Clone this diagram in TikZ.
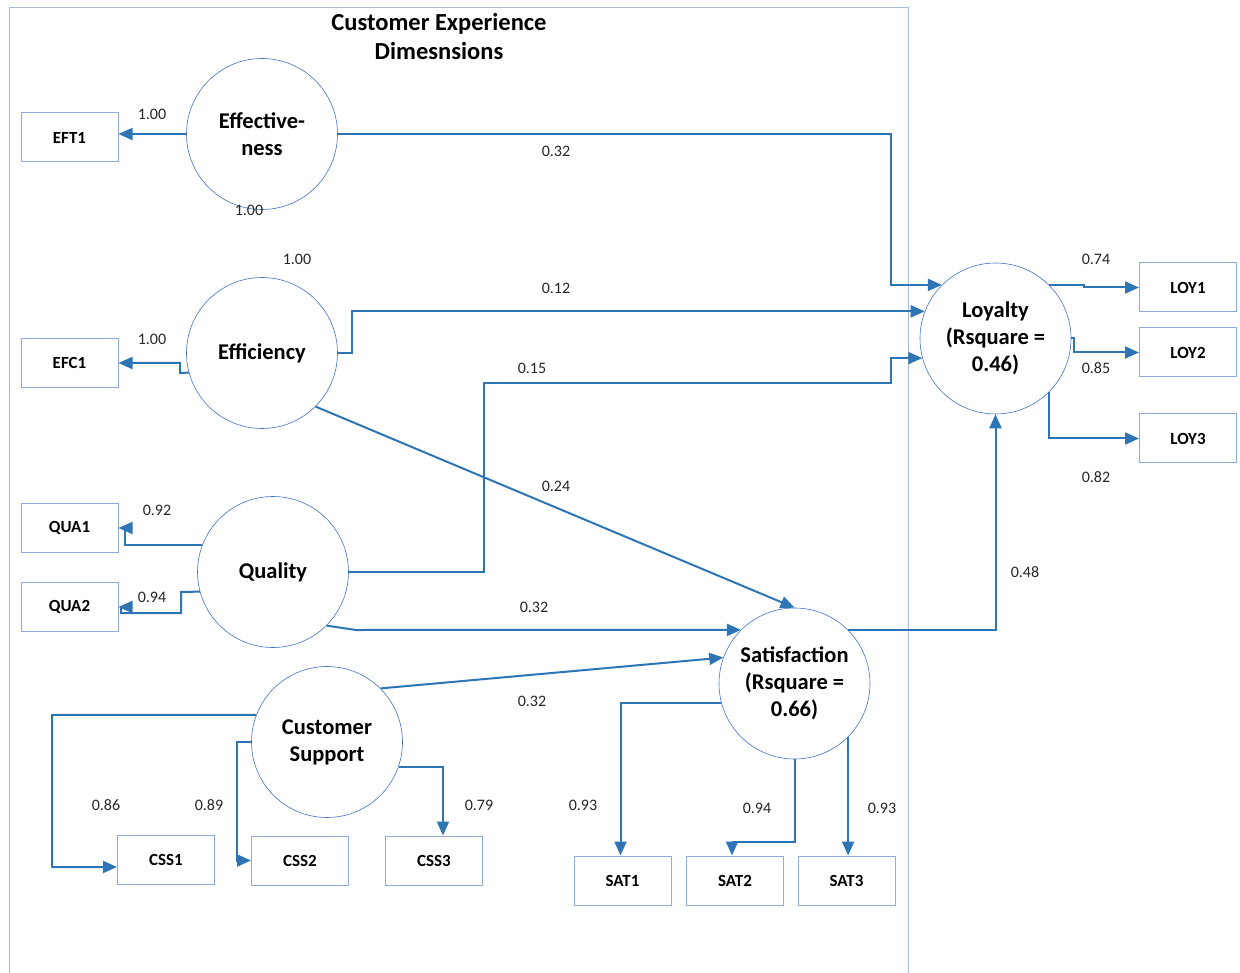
\documentclass[tikz,border=0pt]{standalone}
\usepackage{fontspec}
\setmainfont{Carlito}
\usetikzlibrary{arrows.meta,calc}
\definecolor{linkblue}{HTML}{2E75B6}
\definecolor{ringblue}{HTML}{4472C4}
\definecolor{boxblue}{HTML}{8FAADC}
\definecolor{framegray}{HTML}{A9BAD6}
\definecolor{numgray}{HTML}{262626}
\tikzset{
  latent/.style={circle, draw=ringblue, line width=0.6pt, fill=white,
    minimum size=151pt, inner sep=0pt, align=center,
    font=\bfseries\fontsize{22.5}{27}\selectfont},
  item/.style={rectangle, draw=boxblue, line width=1pt, fill=white,
    minimum width=97pt, minimum height=49pt, inner sep=0pt,
    font=\bfseries\fontsize{17}{20}\selectfont},
  conn/.style={draw=linkblue, line width=2pt,
    -{Triangle[length=14pt,width=12pt]}},
  coef/.style={font=\fontsize{16}{18}\selectfont, text=numgray, inner sep=0pt},
  frame/.style={draw=framegray, line width=1pt}
}
\begin{document}
\begin{tikzpicture}[x=1pt,y=-1pt]
\useasboundingbox (0,0) rectangle (1240,973);
\fill[white] (0,0) rectangle (1240,973);

% frame around the experience dimensions
\draw[frame] (9,980) -- (9,8) -- (908,8) -- (908,980);
\node[font=\bfseries\fontsize{24.5}{29}\selectfont, align=center] (title) at (439,36.5)
  {Customer Experience\\Dimesnsions};

% latent constructs
\node[latent] (eff) at (262,134) {Effective-\\ness};
\node[latent] (effi) at (262,353) {Efficiency};
\node[latent] (qua) at (273,572) {Quality};
\node[latent] (cs) at (327,742) {Customer\\Support};
\node[latent] (sat) at (794.5,683.5) {Satisfaction\\(Rsquare =\\0.66)};
\node[latent] (loy) at (995.5,338.5) {Loyalty\\(Rsquare =\\0.46)};

% indicators
\node[item] (eft1) at (69.5,137.5) {EFT1};
\node[item] (efc1) at (69.5,363) {EFC1};
\node[item] (qua1) at (69.5,528) {QUA1};
\node[item] (qua2) at (69.5,607) {QUA2};
\node[item] (css1) at (166,859.5) {CSS1};
\node[item] (css2) at (300,860.5) {CSS2};
\node[item] (css3) at (434,860.5) {CSS3};
\node[item] (sat1) at (622.5,880.5) {SAT1};
\node[item] (sat2) at (735,880.5) {SAT2};
\node[item] (sat3) at (846.5,880.5) {SAT3};
\node[item] (loy1) at (1188,287.5) {LOY1};
\node[item] (loy2) at (1188,352.5) {LOY2};
\node[item] (loy3) at (1188,438.5) {LOY3};

% loadings
\draw[conn] (eff.west) -- (eff.west -| eft1.east);
\draw[conn] (effi.195) -- (180,373) |- (efc1.east);
\draw[conn] (qua.159) -| (124.5,528) -- (qua1.east);
\draw[conn] (qua.195) -- (181,592) -- (181,613) -- (121,613) -- (121,607) -- (qua2.east);
\draw[conn] (cs.159) -- (52,715) -- (52,867) -- ($(css1.west)+(0,7.5)$);
\draw[conn] (cs.west) -- (237,742) |- (css2.west);
\draw[conn] (cs.-19) -| ($(css3.north)+(9,0)$);
\draw[conn] (sat.195) -| ($(sat1.north)+(-2,0)$);
\draw[conn] (sat.south) -- (794.5,842) -| ($(sat2.north)+(-3,0)$);
\draw[conn] (sat.-45) -- (sat.-45 |- sat3.north);
\draw[conn] (loy.45) -| (1084,287.5) -- (loy1.west);
\draw[conn] (loy.east) -- (1074,338.5) |- (loy2.west);
\draw[conn] (loy.-45) |- (loy3.west);

% structural paths
\draw[conn] (eff.east) -- (891,134) |- (loy.135);
\draw[conn] (effi.east) -- (352,353) |- (loy.159.5);
\draw[conn] (qua.east) -| (484,383) -- (891,383) |- (loy.195);
\draw[conn] (effi.-45) -- (sat.north);
\draw[conn] (qua.-45) -- (356,630) -- (sat.135);
\draw[conn] (cs.45) -- (sat.160);
\draw[conn] (sat.45) -| (loy.south);

% coefficients
\node[coef] (c1) at (152,114) {1.00};
\node[coef] (c2) at (249,210) {1.00};
\node[coef] (c3) at (556,151) {0.32};
\node[coef] (c4) at (297,259) {1.00};
\node[coef] (c5) at (556,288) {0.12};
\node[coef] (c6) at (152,339) {1.00};
\node[coef] (c7) at (532,368) {0.15};
\node[coef] (c8) at (556,486) {0.24};
\node[coef] (c9) at (157,510) {0.92};
\node[coef] (c10) at (152,597) {0.94};
\node[coef] (c11) at (534,607) {0.32};
\node[coef] (c12) at (532,701) {0.32};
\node[coef] (c13) at (106,805) {0.86};
\node[coef] (c14) at (209,805) {0.89};
\node[coef] (c15) at (479,805) {0.79};
\node[coef] (c16) at (583,805) {0.93};
\node[coef] (c17) at (757,808) {0.94};
\node[coef] (c18) at (882,808) {0.93};
\node[coef] (c19) at (1025,572) {0.48};
\node[coef] (c20) at (1096,259) {0.74};
\node[coef] (c21) at (1096,368) {0.85};
\node[coef] (c22) at (1096,477) {0.82};
\end{tikzpicture}
\end{document}
